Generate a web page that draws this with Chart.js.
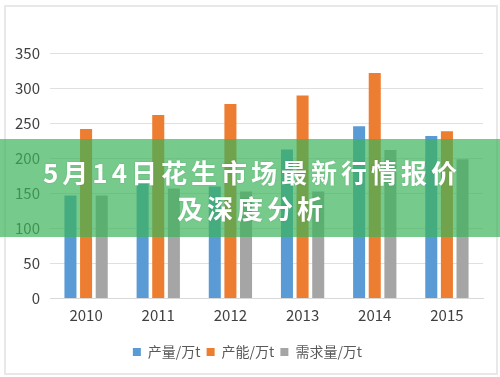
<!DOCTYPE html>
<html>
<head>
<meta charset="utf-8">
<script src="https://cdn.jsdelivr.net/npm/chart.js@4/dist/chart.umd.min.js"></script>
<style>
  html, body { margin: 0; padding: 0; background: #fff; }
  #wrap { position: relative; width: 500px; height: 377px; overflow: hidden; }
  #frame {
    position: absolute; left: 4px; top: 5px; width: 490px; height: 366px;
    border: 2px solid #e8e8e8; box-sizing: content-box;
  }
  canvas { position: absolute; left: 0; top: 0; }
  #banner {
    position: absolute; left: 0; top: 139px; width: 500px; height: 98px;
    background: rgba(60, 180, 90, 0.7);
  }
  #title {
    position: absolute; left: 0; top: 154px; width: 500px; padding-left: 4px;
    box-sizing: border-box;
    text-align: center; color: #fff;
    font-family: "Noto Sans CJK SC", sans-serif; font-weight: bold;
    font-size: 26px; line-height: 36px; letter-spacing: 4px;
    text-shadow: 0 0 2px rgba(0, 0, 0, 0.15);
  }
</style>
</head>
<body>
<div id="wrap">
  <div id="frame"></div>
  <canvas id="chart" width="500" height="377"></canvas>
  <div id="banner"></div>
  <div id="title">5月14日花生市场最新行情报价<br>及深度分析</div>
</div>
<script>
const years = ["2010", "2011", "2012", "2013", "2014", "2015"];
const output = [147, 167, 160, 213, 246, 232];
const capacity = [242, 262, 278, 290, 322, 239];
const demand = [147, 157, 153, 153, 212, 199];
const seriesNames = ["产量/万t", "产能/万t", "需求量/万t"];
const yTicks = [0, 50, 100, 150, 200, 250, 300, 350];

const font = "'Noto Sans CJK SC', 'Open Sans', sans-serif";

new Chart(document.getElementById("chart").getContext("2d"), {
  type: "bar",
  data: {
    labels: years,
    datasets: [
      { label: seriesNames[0], data: output, backgroundColor: "#5B9BD5" },
      { label: seriesNames[1], data: capacity, backgroundColor: "#ED7D31" },
      { label: seriesNames[2], data: demand, backgroundColor: "#A5A5A5" },
    ],
  },
  options: {
    responsive: false,
    animation: false,
    categoryPercentage: 0.65,
    barPercentage: 0.77,
    layout: { padding: { left: 12, top: 53.5, right: 17, bottom: 8 } },
    plugins: {
      tooltip: { enabled: false },
      legend: {
        position: "bottom",
        labels: {
          boxWidth: 8,
          boxHeight: 8,
          padding: 6,
          color: "#595959",
          font: { family: font, size: 14 },
        },
      },
    },
    scales: {
      x: {
        afterFit: (scale) => { scale.height = scale.height + 6.5; },
        grid: { display: false, drawTicks: false },
        border: { color: "#d9d9d9" },
        ticks: { color: "#404040", padding: 8, font: { family: font, size: 15 } },
      },
      y: {
        min: 0,
        max: 350,
        afterFit: (scale) => { scale.width = 38; },
        afterBuildTicks: (scale) => { scale.ticks = yTicks.map((v) => ({ value: v })); },
        grid: { color: "#e0e0e0", drawTicks: false },
        border: { display: false },
        ticks: { color: "#404040", padding: 10, font: { family: font, size: 15 } },
      },
    },
  },
});
</script>
</body>
</html>
